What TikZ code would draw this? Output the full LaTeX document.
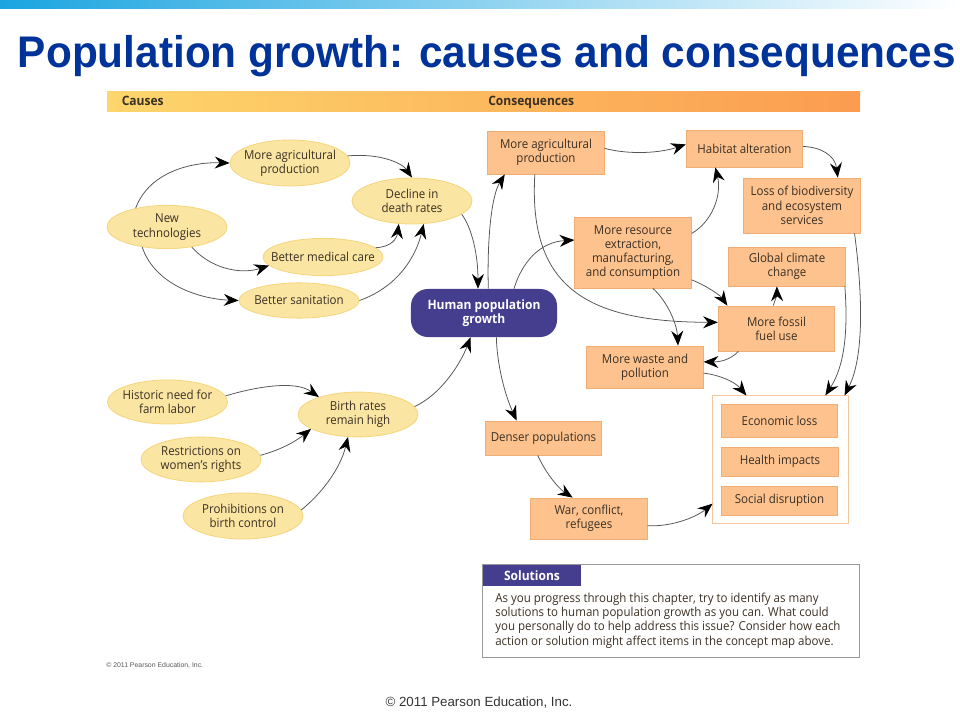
\documentclass[tikz,border=0pt]{standalone}
\usepackage{fontspec}
\usepackage{xcolor}
\setmainfont{Open Sans}[FakeStretch=0.93]
\newfontfamily\titlefont{Liberation Sans}[FakeStretch=0.956]
\newfontfamily\notefont{Liberation Sans}
\usetikzlibrary{arrows, arrows.meta}
\usetikzlibrary{shapes.geometric}
\definecolor{titleblue}{HTML}{003399}
\definecolor{bandblue}{HTML}{1BA5E0}
\definecolor{inkbrown}{HTML}{3B3024}
\definecolor{ovalfill}{HTML}{FAE5A2}
\definecolor{ovaledge}{HTML}{F5D67E}
\definecolor{boxfill}{HTML}{FDC28E}
\definecolor{boxedge}{HTML}{F0AE74}
\definecolor{humanblue}{HTML}{453E8E}
\definecolor{linkgray}{HTML}{555555}
\definecolor{bandleft}{HTML}{FDD66C}
\definecolor{bandmid}{HTML}{FDBE5C}
\definecolor{bandright}{HTML}{FB9C50}

\begin{document}
\begin{tikzpicture}[x=0.025cm,y=-0.025cm,
		causeoval/.style={ellipse, draw=ovaledge, fill=ovalfill, line width=0.6pt, text=inkbrown, font=\fontsize{8.8}{10.1}\selectfont, align=center, inner sep=-10pt, minimum width=3cm},
		effectbox/.style={rectangle, draw=boxedge, fill=boxfill, line width=0.6pt, text=inkbrown, font=\fontsize{8.8}{10.1}\selectfont, align=center, inner sep=0pt, minimum width=2.91cm},
		bandlabel/.style={font=\bfseries\fontsize{9.2}{10}\selectfont, text=inkbrown, anchor=base west, inner sep=0pt},
		link/.style={draw=linkgray, line width=0.55pt, -{Stealth[length=10.5pt,width=8.5pt,inset=3.5pt,color=black]}},
	]
	\useasboundingbox (0,0) rectangle (960,720);
	% top band and title
	\shade[left color=bandblue, right color=white, draw=none] (0,0) rectangle (960,9);
	\node[font=\titlefont\bfseries\fontsize{31.5}{34}\selectfont, text=titleblue, inner sep=0pt] (title) at (487,56) {Population growth: causes and consequences};
	% header band
	\shade[left color=bandleft, middle color=bandmid, right color=bandright, draw=none] (107,92) rectangle (860,112);
	\node[bandlabel] (causeslabel) at (121.5,106) {Causes};
	\node[bandlabel] (effectslabel) at (488,106) {Consequences};
	% draw causes
	\node[causeoval, minimum height=1.15cm] (agrcause) at (290,163) {More agricultural\\production};
	\node[causeoval, minimum height=1.15cm] (decline) at (412,201) {Decline in\\death rates};
	\node[causeoval, minimum height=1.08cm] (newtech) at (167,227) {New\\technologies};
	\node[causeoval, minimum height=0.93cm] (medical) at (323,257) {Better medical care};
	\node[causeoval, minimum height=0.88cm] (sanitation) at (299,300.5) {Better sanitation};
	\node[causeoval, minimum height=1.1cm] (farmlabor) at (167.5,402) {Historic need for\\farm labor};
	\node[causeoval, minimum height=1.12cm] (restrict) at (201,459.5) {Restrictions on\\women's rights};
	\node[causeoval, minimum height=1.15cm] (prohibit) at (243,516) {Prohibitions on\\birth control};
	\node[causeoval, minimum height=1.12cm] (birth) at (358,414.5) {Birth rates\\remain high};
	% center node
	\node[rectangle, rounded corners=12pt, fill=humanblue, text=white, font=\bfseries\fontsize{9.2}{10.1}\selectfont, align=center, inner sep=0pt, minimum width=3.65cm, minimum height=1.2cm] (human) at (484,313) {Human population\\growth};
	% draw consequences
	\node[effectbox, minimum height=1.075cm] (agreffect) at (546,152.5) {More agricultural\\production};
	\node[effectbox, minimum height=0.925cm] (habitat) at (744.5,148.5) {Habitat alteration};
	\node[effectbox, minimum height=1.375cm] (biodiv) at (802,205.5) {Loss of biodiversity\\and ecosystem\\services};
	\node[effectbox, minimum height=1.775cm] (resource) at (633,252.5) {More resource\\extraction,\\manufacturing,\\and consumption};
	\node[effectbox, minimum height=0.975cm] (climate) at (787,266.5) {Global climate\\change};
	\node[effectbox, minimum height=1.125cm] (fossil) at (776.5,328.5) {More fossil\\fuel use};
	\node[effectbox, minimum height=1.05cm] (waste) at (645,367) {More waste and\\pollution};
	\node[effectbox, minimum height=0.85cm] (denser) at (543.5,438) {Denser populations};
	\node[effectbox, minimum height=1.025cm] (war) at (589,518.5) {War, conflict,\\refugees};
	% losses box
	\node[rectangle, draw=boxedge!70, fill=white, line width=0.7pt, inner sep=0pt, minimum width=3.375cm, minimum height=3.175cm] (lossbox) at (780.5,459.5) {};
	\node[effectbox, minimum height=0.825cm] (economic) at (779.5,420.5) {Economic loss};
	\node[effectbox, minimum height=0.725cm] (health) at (780,461.5) {Health impacts};
	\node[effectbox, minimum height=0.725cm] (social) at (779.5,500.5) {Social disruption};
	% solutions box
	\node[rectangle, draw=gray!80, line width=0.7pt, inner sep=0pt, minimum width=9.4cm, minimum height=2.3cm] (solbox) at (671,611) {};
	\node[rectangle, fill=humanblue, text=white, font=\bfseries\fontsize{9.2}{10}\selectfont, inner sep=0pt, minimum width=2.45cm, minimum height=0.525cm] (solhead) at (532,575.5) {Solutions\hspace{4pt}};
	\node[anchor=west, align=left, inner sep=0pt, text=inkbrown, font=\fontsize{8.8}{10.1}\selectfont] (soltext) at (495,620.5) {As you progress through this chapter, try to identify as many\\solutions to human population growth as you can. What could\\you personally do to help address this issue? Consider how each\\action or solution might affect items in the concept map above.};
	% copyright lines
	\node[anchor=west, inner sep=0pt, text=black!65, font=\notefont\fontsize{4.9}{5}\selectfont] (smallcopy) at (106,665) {\textcopyright{} 2011 Pearson Education, Inc.};
	\node[inner sep=0pt, text=black!80, font=\notefont\fontsize{9.45}{10}\selectfont] (copyright) at (479,702.5) {\textcopyright{} 2011 Pearson Education, Inc.};
	% arrows on the causes side
	\draw[link] (newtech.149) .. controls (150,170) and (195,162) .. (agrcause.west);
	\draw[link] (newtech.-39) .. controls (210,268) and (240,275) .. (medical.189);
	\draw[link] (newtech.219) .. controls (155,285) and (200,299) .. (sanitation.west);
	\draw[link] (agrcause.7) .. controls (380,153) and (402,163) .. (decline.north);
	\draw[link] (medical.10) .. controls (392,247) and (397,238) .. (decline.240);
	\draw[link] (sanitation.east) .. controls (395,288) and (415,260) .. (decline.-63);
	\draw[link] (decline.-15) .. controls (472,228) and (478,255) .. (human.104);
	\draw[link] (farmlabor.6) .. controls (255,387) and (295,380) .. (birth.156);
	\draw[link] (restrict.4) .. controls (280,450) and (295,442) .. (birth.197);
	\draw[link] (prohibit.6) .. controls (320,495) and (340,470) .. (birth.246);
	\draw[link] (birth.8) .. controls (440,395) and (460,365) .. (human.241.6);
	% arrows on the consequences side
	\draw[link] (human.80.5) .. controls (487,235) and (492,195) .. (agreffect.208.9);
	\draw[link] (human.39.6) .. controls (522,262) and (540,242) .. (resource.168);
	\draw[link] (human.-63.4) .. controls (497,365) and (505,395) .. (denser.147);
	\draw[link] (agreffect.4.4) .. controls (630,155) and (660,153) .. (habitat.176);
	\draw[link] (habitat.2) .. controls (820,147) and (835,155) .. (biodiv.38);
	\draw[link] (resource.18.6) .. controls (712,222) and (722,195) .. (habitat.213);
	\draw[link] (agreffect.243) .. controls (528,290) and (590,322) .. (fossil.174.6);
	\draw[link] (resource.-25.4) .. controls (705,285) and (720,295) .. (fossil.155);
	\draw[link] (resource.-61.8) .. controls (668,302) and (677,325) .. (waste.33.3);
	\draw[link] (fossil.98.8) .. controls (775,300) and (777,295) .. (climate.243.4);
	\draw[link] (fossil.211) .. controls (730,360) and (720,362) .. (waste.5);
	\draw[link] (waste.-6) .. controls (720,375) and (735,382) .. (lossbox.118.5);
	\draw[link] (climate.-19.2) .. controls (848,330) and (845,365) .. (lossbox.55.6);
	\draw[link] (biodiv.-28.3) .. controls (862,290) and (865,355) .. (lossbox.45);
	\draw[link] (denser.252) .. controls (545,472) and (558,488) .. (war.128);
	\draw[link] (war.-7.4) .. controls (670,527) and (695,518) .. (lossbox.213.4);
\end{tikzpicture}
\end{document}
